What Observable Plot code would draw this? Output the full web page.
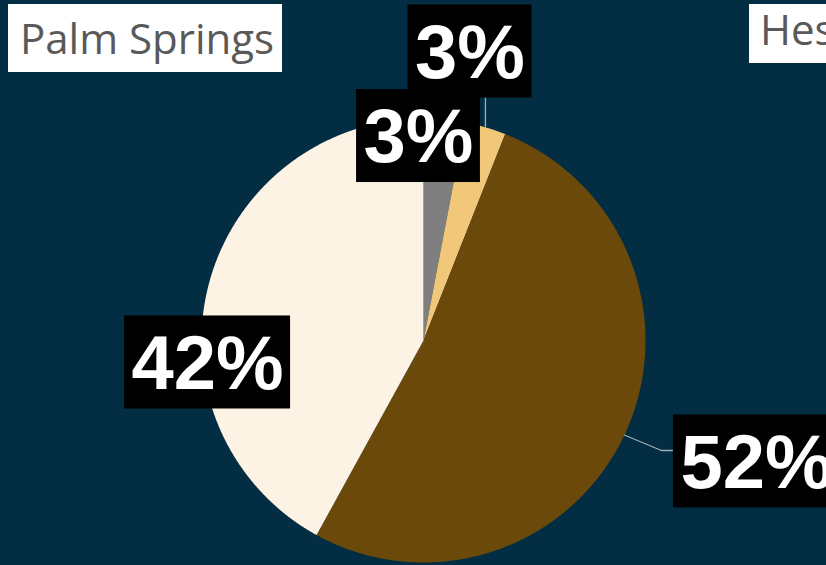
<!DOCTYPE html>
<html><head><meta charset="utf-8">
<script src="https://cdn.jsdelivr.net/npm/d3@7"></script>
<script src="https://cdn.jsdelivr.net/npm/@observablehq/plot@0.6"></script>
<style>
html,body{margin:0;padding:0;background:#022d42;}
#wrap{position:relative;width:826px;height:565px;overflow:hidden;background:#022d42;}
.ttl{position:absolute;background:#ffffff;color:#595959;font-family:"Open Sans",sans-serif;font-size:42px;white-space:nowrap;overflow:hidden;box-sizing:border-box;}
</style></head><body>
<div id="wrap"></div>
<script>
// ---- data ----
const categories = ["Other", "Minor", "Major", "Remaining"];
const values = [3, 3, 52, 42];
const valueLabels = ["3%", "3%", "52%", "42%"];
const titles = ["Palm Springs", "Hesperia"];

// ---- styles / layout ----
const colors = ["#7f7f7f", "#f1c77a", "#6b490b", "#fcf3e4"];
const bg = "#022d42";
const W = 826, H = 565, R = 222, CX = 423, CY = 340;
// label box centers, offset from pie center in radius units
const labelOffsets = [[-0.0225, -0.921], [0.2095, -1.302], [1.50, 0.545], [-0.973, 0.099]];
const leaderKind = [null, "up", "elbow", null];
const fontSize = 76, padX = 7, boxH = 93;

const pie = d3.pie().sort(null).startAngle(0).endAngle(2 * Math.PI)(values);

// slice polygons (unit-radius coordinates, y down)
const poly = [];
pie.forEach((p, i) => {
  poly.push({k: categories[i], x: 0, y: 0});
  const n = Math.max(4, Math.ceil((p.endAngle - p.startAngle) / 0.005));
  for (let j = 0; j <= n; j++) {
    const a = p.startAngle + (p.endAngle - p.startAngle) * j / n;
    poly.push({k: categories[i], x: Math.sin(a), y: -Math.cos(a)});
  }
  poly.push({k: categories[i], x: 0, y: 0});
});

const ctx = document.createElement("canvas").getContext("2d");
ctx.font = `bold ${fontSize}px "Liberation Sans"`;
const labels = pie.map((p, i) => {
  const w = ctx.measureText(valueLabels[i]).width + 2 * padX;
  const cx = labelOffsets[i][0], cy = labelOffsets[i][1];
  return {k: categories[i], text: valueLabels[i], x: cx, y: cy,
    x1: cx - w / 2 / R, x2: cx + w / 2 / R, y1: cy - boxH / 2 / R, y2: cy + boxH / 2 / R,
    mid: (p.startAngle + p.endAngle) / 2};
});

const leaders = [];
labels.forEach((l, i) => {
  const ex = Math.sin(l.mid), ey = -Math.cos(l.mid);
  if (leaderKind[i] === "up") {
    leaders.push({k: l.k, x: ex, y: ey}, {k: l.k, x: ex, y: l.y2});
  } else if (leaderKind[i] === "elbow") {
    const ly = l.y - 11 / R;
    leaders.push({k: l.k, x: ex, y: ey}, {k: l.k, x: l.x1 - 12 / R, y: ly}, {k: l.k, x: l.x1, y: ly});
  }
});

const chart = Plot.plot({
  width: W, height: H,
  margin: 0, marginTop: 0, marginRight: 0, marginBottom: 0, marginLeft: 0,
  style: {background: bg, overflow: "visible"},
  x: {domain: [-CX / R, (W - CX) / R], range: [0, W], axis: null},
  y: {domain: [-CY / R, (H - CY) / R], range: [0, H], axis: null},
  color: {type: "ordinal", domain: categories, range: colors},
  marks: [
    Plot.line(poly, {x: "x", y: "y", z: "k", fill: "k", stroke: "none", curve: "linear"}),
    Plot.line(leaders, {x: "x", y: "y", z: "k", stroke: "#a6adb4", strokeWidth: 1.3}),
    Plot.rect(labels, {x1: "x1", x2: "x2", y1: "y1", y2: "y2", fill: "#000000"}),
    Plot.text(labels, {x: "x", y: "y", text: "text", fill: "#ffffff", fontSize: fontSize,
      fontWeight: "bold", fontFamily: "Liberation Sans, Arial, sans-serif", dy: 2, lineAnchor: "middle"})
  ]
});

const wrap = document.getElementById("wrap");
wrap.appendChild(chart);
const t1 = document.createElement("div");
t1.className = "ttl";
t1.textContent = titles[0];
Object.assign(t1.style, {left: "8px", top: "4px", width: "274px", height: "68px", lineHeight: "68px", paddingLeft: "12px"});
wrap.appendChild(t1);
const t2 = document.createElement("div");
t2.className = "ttl";
t2.textContent = titles[1];
Object.assign(t2.style, {left: "749px", top: "4px", width: "200px", height: "59px", lineHeight: "50px", paddingLeft: "11px"});
wrap.appendChild(t2);
</script>
</body></html>
